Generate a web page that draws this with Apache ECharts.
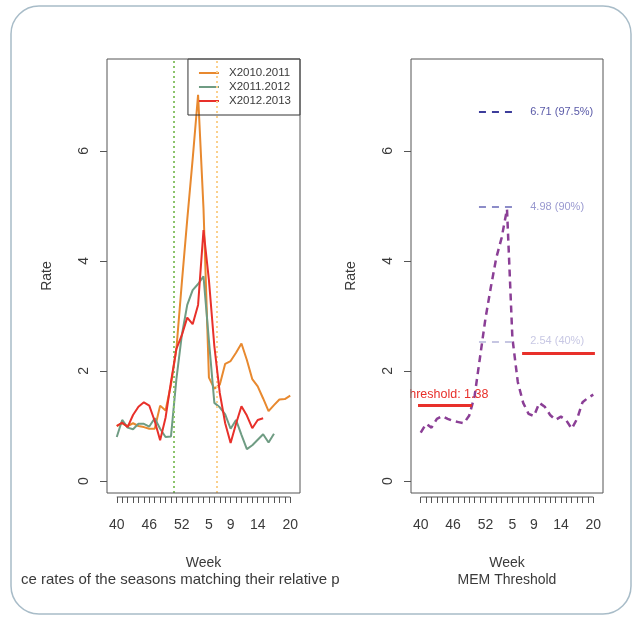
<!DOCTYPE html>
<html><head><meta charset="utf-8">
<script src="https://cdn.jsdelivr.net/npm/echarts@6/dist/echarts.min.js"></script>
<style>html,body{margin:0;padding:0;background:#fff}#c{width:635px;height:621px}</style>
</head><body><div id="c"></div>
<script>
// ---- data ----
const weekLabels = ['40','41','42','43','44','45','46','47','48','49','50','51','52',
  '1','2','3','4','5','6','7','8','9','10','11','12','13','14','15','16','17','18','19','20'];
const labelledWeeks = [0, 6, 12, 17, 21, 26, 32];
const yTicks = [0, 2, 4, 6];
const seasonNames = ['X2010.2011', 'X2011.2012', 'X2012.2013'];
const season2010 = [1.0,1.05,1.0,1.05,1.0,0.98,0.95,0.95,1.37,1.28,1.75,2.4,3.6,4.75,5.85,7.02,4.95,1.88,1.68,1.75,2.13,2.18,2.33,2.5,2.2,1.85,1.72,1.5,1.27,1.38,1.48,1.49,1.55];
const season2011 = [0.8,1.11,0.97,0.94,1.04,1.04,0.99,1.14,0.95,0.8,0.81,1.85,2.65,3.2,3.47,3.58,3.72,2.55,1.42,1.34,1.21,0.95,1.11,0.84,0.58,0.65,0.75,0.85,0.7,0.86];
const season2012 = [1.0,1.06,0.98,1.2,1.35,1.43,1.37,1.09,0.74,1.15,1.8,2.4,2.65,2.97,2.85,3.2,4.56,3.65,2.45,1.6,1.05,0.69,1.04,1.36,1.19,0.96,1.11,1.14];
const memSeries = [0.88,1.04,0.97,1.13,1.18,1.13,1.09,1.07,1.05,1.19,1.55,2.25,2.95,3.52,4.05,4.42,4.94,2.6,1.8,1.42,1.22,1.18,1.42,1.35,1.2,1.11,1.17,1.1,0.95,1.13,1.43,1.51,1.57];
const epidemicMarks = [10.5, 18.5];
const preThreshold = 1.38, preRange = [-0.5, 9.5];
const postThreshold = 2.33, postRange = [18.8, 32.3];
const intensityValues = [2.54, 4.98, 6.71];
const intensityLabels = ['2.54 (40%)', '4.98 (90%)', '6.71 (97.5%)'];
const intensityRange = [10.8, 17.9];

// ---- style ----
const FONT = '"Liberation Sans", Arial, sans-serif';
const TXT = '#3a3a3a', AX = '#555';
const X_MIN = -1.8, X_MAX = 33.8, Y_MIN = -0.218, Y_MAX = 7.67;
const seasonColors = ['#e8892f', '#6f9c83', '#e8302a'];
const intensityColors = ['#c6c6e2', '#8c8cc8', '#3d3d9b'];
const intensityTextColors = ['#c8c8e4', '#9a9ad0', '#5a5aa8'];

const toXY = arr => arr.map((v, i) => [i, v]);

function xAxisCfg(gi) {
  return {
    type: 'value', gridIndex: gi, min: X_MIN, max: X_MAX, offset: 4,
    axisLine: { show: false, onZero: false },
    axisTick: { show: true, customValues: weekLabels.map((_, i) => i), length: 6, lineStyle: { color: AX } },
    axisLabel: { show: true, customValues: labelledWeeks, formatter: v => weekLabels[v], fontSize: 14, color: TXT, fontFamily: FONT, margin: 21 },
    splitLine: { show: false },
    name: 'Week', nameLocation: 'middle', nameGap: 59,
    nameTextStyle: { fontSize: 14, color: TXT, fontFamily: FONT }
  };
}
function yAxisCfg(gi) {
  return {
    type: 'value', gridIndex: gi, min: Y_MIN, max: Y_MAX,
    axisLine: { show: false, onZero: false },
    axisTick: { show: true, customValues: yTicks, length: 7, lineStyle: { color: AX } },
    axisLabel: { show: true, customValues: yTicks, rotate: 90, margin: 16, fontSize: 14, color: TXT, fontFamily: FONT },
    splitLine: { show: false },
    name: 'Rate', nameLocation: 'middle', nameGap: 53,
    nameTextStyle: { fontSize: 14, color: TXT, fontFamily: FONT }
  };
}

const seasons = [season2010, season2011, season2012];
const series = seasons.map((s, k) => ({
  name: seasonNames[k], type: 'line', xAxisIndex: 0, yAxisIndex: 0,
  data: toXY(s), showSymbol: false, symbol: 'none', color: seasonColors[k],
  lineStyle: { width: 2, color: seasonColors[k] }, z: 3 + k
}));

series.push({
  name: 'epi', type: 'line', xAxisIndex: 0, yAxisIndex: 0, data: [], z: 2,
  markLine: {
    silent: true, symbol: ['none', 'none'], animation: false,
    label: { show: false },
    data: epidemicMarks.map((x, k) => ({ xAxis: x, lineStyle: { type: [2, 3], width: 2, color: k === 0 ? '#8cc46c' : '#fbd08c' } }))
  }
});

const intensityLines = intensityValues.map((v, k) => [
  { coord: [intensityRange[0], v], lineStyle: { type: [7, 6], width: 2, color: intensityColors[k] },
    label: { show: true, position: 'end', distance: 13, formatter: intensityLabels[k], color: intensityTextColors[k], fontSize: 11, fontFamily: FONT } },
  { coord: [intensityRange[1], v] }
]);

series.push({
  name: 'MEM', type: 'line', xAxisIndex: 1, yAxisIndex: 1,
  data: toXY(memSeries), showSymbol: false, symbol: 'none', color: '#8b3f96',
  lineStyle: { width: 2.5, type: [7, 5], color: '#8b3f96' }, z: 4,
  markLine: {
    silent: true, symbol: ['none', 'none'], animation: false,
    data: [
      [{ coord: [preRange[0], preThreshold], lineStyle: { type: 'solid', width: 3, color: '#e8302a' },
         label: { show: true, position: 'middle', distance: 4, formatter: 'Threshold: ' + preThreshold.toFixed(2), color: '#e8302a', fontSize: 12.5, fontFamily: FONT } },
       { coord: [preRange[1], preThreshold] }],
      [{ coord: [postRange[0], postThreshold], lineStyle: { type: 'solid', width: 3, color: '#e8302a' }, label: { show: false } },
       { coord: [postRange[1], postThreshold] }]
    ].concat(intensityLines)
  }
});

const option = {
  animation: false,
  backgroundColor: '#fff',
  grid: [
    { left: 107, top: 59, width: 193, height: 434, show: true, borderColor: '#555', borderWidth: 1, z: 10 },
    { left: 411, top: 59, width: 192, height: 434, show: true, borderColor: '#555', borderWidth: 1, z: 10 }
  ],
  xAxis: [xAxisCfg(0), xAxisCfg(1)],
  yAxis: [yAxisCfg(0), yAxisCfg(1)],
  legend: {
    data: seasonNames, right: 335, top: 59, orient: 'vertical',
    icon: 'rect', itemWidth: 20, itemHeight: 2, itemGap: 2,
    padding: [8, 9, 8, 11], borderColor: '#333', borderWidth: 1, selectedMode: false,
    textStyle: { fontSize: 11.5, color: TXT, fontFamily: FONT, padding: [0, 0, 0, 5] }
  },
  series: series
};

const chart = echarts.init(document.getElementById('c'));
chart.setOption(option);

// decorations computed through the axes
const xa0 = chart.convertToPixel({ xAxisIndex: 0 }, 0), xb0 = chart.convertToPixel({ xAxisIndex: 0 }, weekLabels.length - 1);
const xa1 = chart.convertToPixel({ xAxisIndex: 1 }, 0), xb1 = chart.convertToPixel({ xAxisIndex: 1 }, weekLabels.length - 1);
const yb = chart.convertToPixel({ yAxisIndex: 0 }, Y_MIN) + 4;
const gl1 = chart.convertToPixel({ xAxisIndex: 1 }, X_MIN);
const c1 = (gl1 + chart.convertToPixel({ xAxisIndex: 1 }, X_MAX)) / 2;
const yThr = chart.convertToPixel({ yAxisIndex: 1 }, preThreshold);

chart.setOption({
  graphic: [
    { id: 'comb0', type: 'line', shape: { x1: xa0, y1: yb, x2: xb0, y2: yb }, style: { stroke: AX, lineWidth: 1 } },
    { id: 'comb1', type: 'line', shape: { x1: xa1, y1: yb, x2: xb1, y2: yb }, style: { stroke: AX, lineWidth: 1 } },
    { id: 'cover', type: 'rect', z: 8, shape: { x: gl1 - 20, y: yThr - 26, width: 19.5, height: 22 }, style: { fill: '#fff' } },
    { id: 'cap0', type: 'text', z: 5, style: { text: 'ce rates of the seasons matching their relative p', x: 21, y: 580, font: '15px ' + FONT, fill: TXT, verticalAlign: 'middle', align: 'left' } },
    { id: 'capcover', type: 'rect', z: 6, shape: { x: 340, y: 568, width: 30, height: 22 }, style: { fill: '#fff' } },
    { id: 'cap1', type: 'text', z: 5, style: { text: 'MEM Threshold', x: c1, y: 580, font: '14px ' + FONT, fill: TXT, verticalAlign: 'middle', align: 'center' } },
    { id: 'frame', type: 'rect', z: 20, shape: { x: 11, y: 6, width: 620, height: 608, r: 28 }, style: { fill: 'none', stroke: '#a8bcc8', lineWidth: 1.5 } }
  ]
});
</script>
</body></html>
